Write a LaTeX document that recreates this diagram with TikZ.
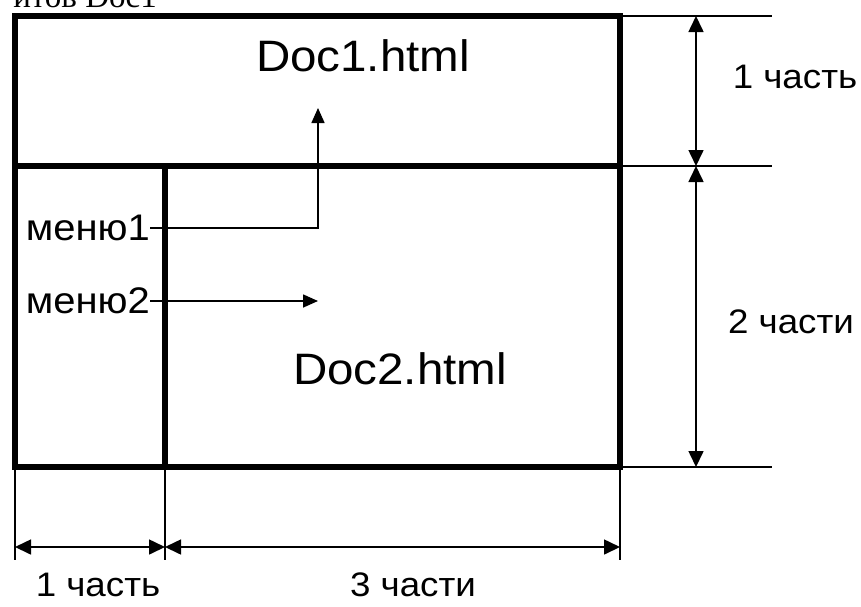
\documentclass[tikz,border=0pt]{standalone}
\usepackage{fontspec}
\setmainfont{Liberation Sans}[FakeStretch=1.08]
\newfontfamily\seriffont{Liberation Serif}
\usetikzlibrary{arrows.meta}
\begin{document}
\begin{tikzpicture}[x=1pt,y=-1pt,
  frame/.style={draw,line width=5.5pt,inner sep=0pt,outer sep=0pt,minimum width=#1},
  thin/.style={line width=1.6pt},
  dim/.style={line width=1.6pt,{Triangle[length=16pt,width=15pt]}-{Triangle[length=16pt,width=15pt]}},
  ptr/.style={line width=1.6pt,-{Triangle[length=15pt,width=13pt]}},
  big/.style={font=\fontsize{44}{50}\selectfont,inner sep=0pt},
  lbl/.style={font=\fontsize{34}{40}\selectfont,inner sep=0pt},
  menu/.style={font=\fontsize{37}{42}\selectfont,inner sep=0pt}]
\useasboundingbox (0,0) rectangle (861,606);
% top clipped text
\node[font=\seriffont\fontsize{33}{38}\selectfont,inner sep=0pt,anchor=base east] (cut) at (157,7) {итов Doc1};
% frames
\node[frame=605pt,minimum height=150pt] (f1) at (317.5,91) {};
\node[frame=150pt,minimum height=301pt] (fl) at (90,316.5) {};
\node[frame=455pt,minimum height=301pt] (f2) at (392.5,316.5) {};
% texts
\node[big] (d1) at (363,56) {Doc1.html};
\node[big] (d2) at (400,369) {Doc2.html};
\node[menu,anchor=east] (m1) at (150,228) {меню1};
\node[menu,anchor=east] (m2) at (150,301) {меню2};
% menu connectors
\coordinate (t1) at (318,108);
\coordinate (t2) at (318,301);
\draw[ptr] (m1.east) -| (t1);
\draw[ptr] (m2.east) -- (t2);
% right dimension
\coordinate (r1) at (772,16);
\coordinate (r2) at (772,166);
\coordinate (r3) at (772,467);
\draw[thin] (f1.north east) -- (r1);
\draw[thin] (f1.south east) -- (r2);
\draw[thin] (f2.south east) -- (r3);
\coordinate (a1) at (696,16);
\coordinate (a2) at (696,166);
\coordinate (a3) at (696,467);
\draw[dim] (a1) -- (a2);
\draw[dim] (a2) -- (a3);
\node[lbl] (l1) at (795,77) {1 часть};
\node[lbl] (l2) at (791,322) {2 части};
% bottom dimension
\coordinate (b1) at (15,560);
\coordinate (b2) at (165,560);
\coordinate (b3) at (620,560);
\draw[thin] (fl.south west) -- (b1);
\draw[thin] (fl.south east) -- (b2);
\draw[thin] (f2.south east) -- (b3);
\coordinate (c1) at (15,547);
\coordinate (c2) at (165,547);
\coordinate (c3) at (620,547);
\draw[dim] (c1) -- (c2);
\draw[dim] (c2) -- (c3);
\node[lbl] (l3) at (98,585) {1 часть};
\node[lbl] (l4) at (413,585) {3 части};
\end{tikzpicture}
\end{document}
